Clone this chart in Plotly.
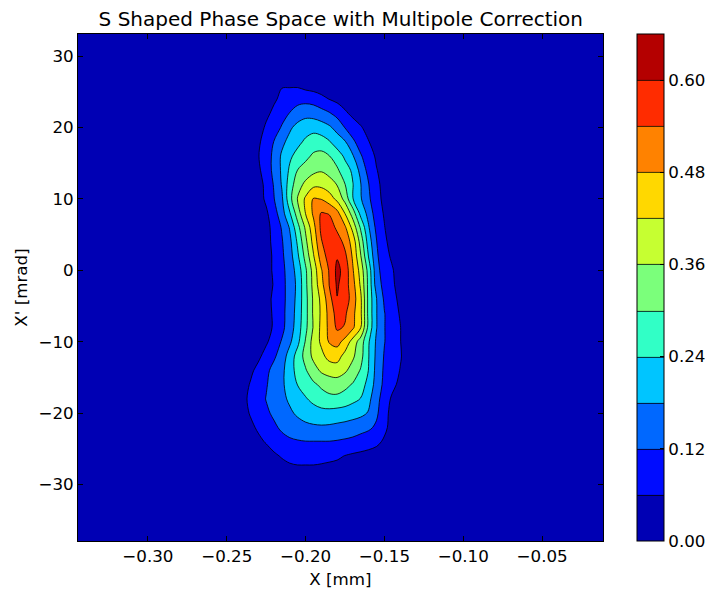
import plotly.graph_objects as go

# Phase-space grid: X [mm] columns and X' [mrad] rows
x_mm = [-0.36, -0.245, -0.240, -0.235, -0.230, -0.225, -0.220, -0.215, -0.210,
        -0.205, -0.200, -0.195, -0.190, -0.185, -0.180, -0.175, -0.170, -0.165,
        -0.160, -0.155, -0.150, -0.145, -0.140, -0.135, -0.130, 0.0]
xp_mrad = [-40, -30, -28, -26, -24, -22, -20, -18, -16, -14, -12, -10, -8, -6, -4,
           -2, 0, 2, 4, 6, 8, 10, 12, 14, 16, 18, 20, 22, 24, 26, 28, 35]

# Particle density, one row per X' value (columns follow x_mm)
density = [
    [0]*26,
    [0]*26,
    [0, 0, 0, 0, 0, 0, 0.02, 0.035, 0.045, 0.048, 0.048, 0.048, 0.045, 0.04, 0.035, 0.025, 0.015, 0.01, 0, 0, 0, 0, 0, 0, 0, 0],
    [0, 0, 0, 0, 0.01, 0.03, 0.05, 0.065, 0.075, 0.08, 0.08, 0.08, 0.078, 0.075, 0.07, 0.058, 0.05, 0.045, 0.04, 0.03, 0.015, 0, 0, 0, 0, 0],
    [0, 0, 0, 0.02, 0.045, 0.065, 0.085, 0.10, 0.11, 0.115, 0.118, 0.118, 0.118, 0.118, 0.115, 0.11, 0.105, 0.095, 0.085, 0.075, 0.05, 0.02, 0, 0, 0, 0],
    [0, 0, 0.015, 0.045, 0.07, 0.09, 0.11, 0.13, 0.145, 0.155, 0.165, 0.17, 0.172, 0.17, 0.165, 0.16, 0.15, 0.14, 0.13, 0.11, 0.075, 0.035, 0.01, 0, 0, 0],
    [0, 0, 0.035, 0.065, 0.09, 0.11, 0.13, 0.15, 0.17, 0.19, 0.205, 0.215, 0.22, 0.22, 0.215, 0.21, 0.205, 0.195, 0.175, 0.13, 0.08, 0.04, 0.015, 0, 0, 0],
    [0, 0.005, 0.04, 0.075, 0.095, 0.122, 0.145, 0.165, 0.19, 0.21, 0.235, 0.255, 0.275, 0.285, 0.285, 0.275, 0.255, 0.238, 0.195, 0.14, 0.09, 0.05, 0.025, 0.005, 0, 0],
    [0, 0, 0.03, 0.065, 0.09, 0.115, 0.145, 0.17, 0.205, 0.242, 0.265, 0.29, 0.31, 0.325, 0.33, 0.315, 0.295, 0.265, 0.22, 0.155, 0.105, 0.075, 0.045, 0.02, 0.005, 0],
    [0, 0, 0.01, 0.045, 0.08, 0.105, 0.14, 0.165, 0.215, 0.26, 0.295, 0.335, 0.37, 0.385, 0.39, 0.37, 0.335, 0.295, 0.238, 0.16, 0.11, 0.085, 0.058, 0.03, 0.01, 0],
    [0, 0, 0, 0.01, 0.045, 0.085, 0.11, 0.15, 0.205, 0.265, 0.32, 0.375, 0.405, 0.44, 0.445, 0.40, 0.37, 0.32, 0.242, 0.165, 0.115, 0.09, 0.065, 0.035, 0.01, 0],
    [0, 0, 0, 0, 0.01, 0.05, 0.09, 0.125, 0.17, 0.225, 0.305, 0.385, 0.43, 0.485, 0.50, 0.46, 0.395, 0.33, 0.245, 0.17, 0.122, 0.09, 0.062, 0.03, 0.01, 0],
    [0, 0, 0, 0, 0.005, 0.03, 0.07, 0.105, 0.15, 0.21, 0.285, 0.365, 0.435, 0.495, 0.55, 0.535, 0.49, 0.422, 0.28, 0.182, 0.122, 0.09, 0.062, 0.025, 0.005, 0],
    [0, 0, 0, 0, 0.005, 0.035, 0.07, 0.105, 0.145, 0.205, 0.28, 0.37, 0.43, 0.50, 0.565, 0.55, 0.495, 0.43, 0.28, 0.182, 0.122, 0.085, 0.055, 0.02, 0, 0],
    [0, 0, 0, 0, 0.005, 0.035, 0.075, 0.105, 0.14, 0.20, 0.28, 0.37, 0.435, 0.515, 0.598, 0.575, 0.51, 0.43, 0.28, 0.182, 0.11, 0.08, 0.045, 0.015, 0, 0],
    [0, 0, 0, 0, 0.005, 0.03, 0.065, 0.105, 0.14, 0.195, 0.285, 0.38, 0.46, 0.542, 0.608, 0.57, 0.50, 0.41, 0.28, 0.15, 0.10, 0.07, 0.035, 0.01, 0, 0],
    [0, 0, 0, 0, 0.005, 0.035, 0.07, 0.105, 0.145, 0.205, 0.29, 0.385, 0.475, 0.545, 0.615, 0.58, 0.485, 0.395, 0.275, 0.14, 0.09, 0.065, 0.03, 0.01, 0, 0],
    [0, 0, 0, 0, 0.005, 0.035, 0.07, 0.11, 0.155, 0.23, 0.32, 0.415, 0.51, 0.565, 0.595, 0.555, 0.47, 0.362, 0.235, 0.13, 0.08, 0.05, 0.02, 0.005, 0, 0],
    [0, 0, 0, 0, 0.005, 0.04, 0.075, 0.115, 0.165, 0.25, 0.345, 0.44, 0.535, 0.585, 0.575, 0.52, 0.455, 0.335, 0.21, 0.122, 0.07, 0.04, 0.015, 0, 0, 0],
    [0, 0, 0, 0, 0.01, 0.04, 0.08, 0.125, 0.185, 0.28, 0.37, 0.46, 0.555, 0.58, 0.525, 0.49, 0.40, 0.29, 0.185, 0.105, 0.062, 0.03, 0.01, 0, 0, 0],
    [0, 0, 0, 0.005, 0.02, 0.05, 0.095, 0.155, 0.235, 0.33, 0.422, 0.49, 0.545, 0.535, 0.50, 0.418, 0.33, 0.22, 0.16, 0.085, 0.055, 0.025, 0.005, 0, 0, 0],
    [0, 0, 0, 0.01, 0.035, 0.07, 0.118, 0.17, 0.28, 0.365, 0.43, 0.485, 0.478, 0.45, 0.405, 0.34, 0.242, 0.185, 0.13, 0.08, 0.045, 0.02, 0.005, 0, 0, 0],
    [0, 0, 0, 0.01, 0.035, 0.075, 0.125, 0.185, 0.27, 0.335, 0.375, 0.405, 0.405, 0.385, 0.358, 0.302, 0.242, 0.182, 0.122, 0.075, 0.04, 0.02, 0.005, 0, 0, 0],
    [0, 0, 0, 0.02, 0.048, 0.09, 0.135, 0.19, 0.25, 0.302, 0.325, 0.345, 0.355, 0.34, 0.31, 0.265, 0.23, 0.16, 0.10, 0.063, 0.035, 0.015, 0, 0, 0, 0],
    [0, 0, 0, 0.02, 0.057, 0.09, 0.135, 0.19, 0.23, 0.26, 0.285, 0.31, 0.32, 0.302, 0.27, 0.23, 0.185, 0.125, 0.09, 0.05, 0.025, 0.005, 0, 0, 0, 0],
    [0, 0, 0, 0.01, 0.05, 0.085, 0.122, 0.165, 0.20, 0.225, 0.25, 0.27, 0.265, 0.245, 0.21, 0.185, 0.13, 0.095, 0.062, 0.035, 0.015, 0, 0, 0, 0, 0],
    [0, 0, 0, 0.01, 0.03, 0.07, 0.095, 0.125, 0.17, 0.20, 0.215, 0.22, 0.21, 0.19, 0.16, 0.118, 0.09, 0.065, 0.04, 0.02, 0.005, 0, 0, 0, 0, 0],
    [0, 0, 0, 0.015, 0.03, 0.045, 0.075, 0.10, 0.122, 0.145, 0.16, 0.155, 0.14, 0.125, 0.10, 0.07, 0.045, 0.03, 0.015, 0, 0, 0, 0, 0, 0, 0],
    [0, 0, 0, 0.005, 0.02, 0.035, 0.05, 0.075, 0.09, 0.10, 0.10, 0.095, 0.08, 0.058, 0.045, 0.03, 0.015, 0, 0, 0, 0, 0, 0, 0, 0, 0],
    [0, 0, 0, 0, 0, 0.01, 0.03, 0.055, 0.052, 0.05, 0.036, 0.028, 0.015, 0.005, 0, 0, 0, 0, 0, 0, 0, 0, 0, 0, 0, 0],
    [0, 0, 0, 0, 0, 0, 0, 0.01, 0.01, 0.01, 0, 0, 0, 0, 0, 0, 0, 0, 0, 0, 0, 0, 0, 0, 0, 0],
    [0]*26,
]

# Contour levels and jet band colours (one per filled band, 0.00 ... 0.66)
level_start, level_end, level_step = 0.06, 0.60, 0.06
band_colors = ["#0000b4", "#000cff", "#0068ff", "#00c5ff", "#31ffc6", "#7bff7b",
               "#c6ff31", "#ffd800", "#ff8200", "#ff2c00", "#b40000"]
cbar_ticks = [0.0, 0.12, 0.24, 0.36, 0.48, 0.60]
cbar_ticktext = ["0.00", "0.12", "0.24", "0.36", "0.48", "0.60"]
x_ticks = [-0.30, -0.25, -0.20, -0.15, -0.10, -0.05]
y_ticks = [-30, -20, -10, 0, 10, 20, 30]

n = len(band_colors) - 1
colorscale = [[i / n, c] for i, c in enumerate(band_colors)]

FONT = "DejaVu Sans"
TICK_SIZE = 16.7

fig = go.Figure(go.Contour(
    x=x_mm, y=xp_mrad, z=density,
    zmin=0, zmax=0.66, zauto=False,
    autocontour=False,
    contours=dict(start=level_start, end=level_end, size=level_step, coloring="fill"),
    colorscale=colorscale,
    line=dict(color="black", width=0.8, smoothing=1),
    colorbar=dict(
        x=1.0648, xanchor="left", xpad=0, y=0.5, yanchor="middle", ypad=0,
        len=1, lenmode="fraction", thickness=27,
        outlinewidth=1, outlinecolor="black",
        tickvals=cbar_ticks, ticktext=cbar_ticktext,
        ticks="inside", ticklen=4, tickcolor="black",
        tickfont=dict(family=FONT, size=TICK_SIZE, color="black"),
    ),
    hoverinfo="skip",
))

axis_common = dict(
    showgrid=False, zeroline=False,
    showline=True, linecolor="black", linewidth=1, mirror="ticks",
    ticks="inside", ticklen=5, tickcolor="black",
    tickfont=dict(family=FONT, size=TICK_SIZE, color="black"),
    automargin=False,
)

fig.update_layout(
    width=708, height=593,
    margin=dict(l=78, r=105, t=34, b=52, autoexpand=False),
    paper_bgcolor="white", plot_bgcolor="#0000b4",
    title=dict(text="S Shaped Phase Space with Multipole Correction",
               x=340.8 / 708, xanchor="center", xref="container",
               y=1 - 19 / 593, yanchor="middle",
               font=dict(family=FONT, size=20, color="black")),
    xaxis=dict(range=[-0.3443, -0.0114], tickvals=x_ticks, tickformat=".2f",
               title=dict(text="X [mm]", font=dict(family=FONT, size=TICK_SIZE, color="black"), standoff=8),
               **axis_common),
    yaxis=dict(range=[-37.9, 33.1], tickvals=y_ticks,
               title=dict(text="X' [mrad]", font=dict(family=FONT, size=TICK_SIZE, color="black"), standoff=6),
               **axis_common),
)

fig.write_html("out.html")
